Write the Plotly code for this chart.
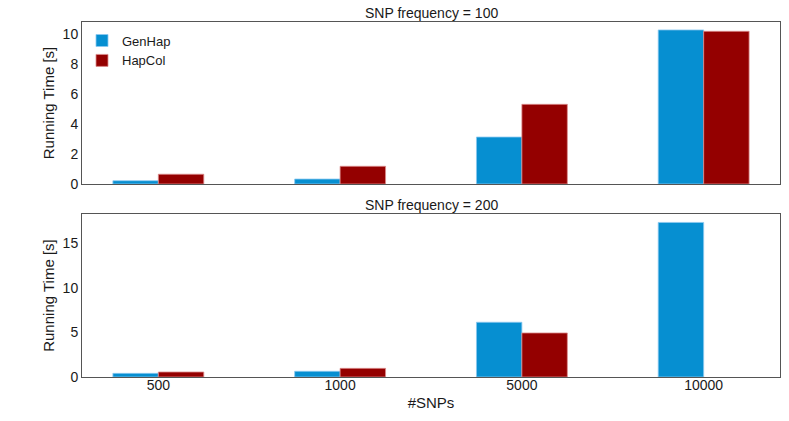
import plotly.graph_objects as go
from plotly.subplots import make_subplots

categories = ["500", "1000", "5000", "10000"]
genhap_100 = [0.22, 0.33, 3.13, 10.27]
hapcol_100 = [0.65, 1.18, 5.31, 10.18]
genhap_200 = [0.41, 0.64, 6.14, 17.34]
hapcol_200 = [0.56, 0.97, 4.94, None]

BLUE = "#068fd1"
RED = "#940000"
FONT = "Liberation Sans, Arial, sans-serif"
TXT = "#1a1a1a"

fig = make_subplots(rows=2, cols=1, shared_xaxes=True, vertical_spacing=0.085)

fig.add_trace(go.Bar(x=categories, y=genhap_100, name="GenHap", marker_color=BLUE,
                     marker_line=dict(color="rgba(140,200,240,0.8)", width=1),
                     legendgroup="g"), row=1, col=1)
fig.add_trace(go.Bar(x=categories, y=hapcol_100, name="HapCol", marker_color=RED,
                     marker_line=dict(color="rgba(220,140,140,0.8)", width=1),
                     legendgroup="h"), row=1, col=1)
fig.add_trace(go.Bar(x=categories, y=genhap_200, name="GenHap", marker_color=BLUE,
                     marker_line=dict(color="rgba(140,200,240,0.8)", width=1),
                     legendgroup="g", showlegend=False), row=2, col=1)
fig.add_trace(go.Bar(x=categories, y=hapcol_200, name="HapCol", marker_color=RED,
                     marker_line=dict(color="rgba(220,140,140,0.8)", width=1),
                     legendgroup="h", showlegend=False), row=2, col=1)

axis_common = dict(showline=True, linecolor="#555555", linewidth=1, mirror=True,
                   showgrid=False, zeroline=False, ticks="",
                   tickfont=dict(family=FONT, size=14, color=TXT))

fig.update_xaxes(**axis_common, range=[-0.42, 3.42])
fig.update_yaxes(**axis_common)
ytitle = dict(text="Running Time [s]", font=dict(family=FONT, size=15, color=TXT), standoff=4)
fig.update_yaxes(range=[0, 10.8], dtick=2, row=1, col=1, title=ytitle)
fig.update_yaxes(range=[0, 18.28], dtick=5, row=2, col=1, title=ytitle)
fig.update_xaxes(row=2, col=1, ticklabelstandoff=-5,
                 title=dict(text="#SNPs", font=dict(family=FONT, size=15, color=TXT), standoff=5))

fig.update_layout(
    width=789, height=421,
    margin=dict(l=82, r=9, t=22, b=44),
    paper_bgcolor="white", plot_bgcolor="white",
    barmode="group", bargap=0.5, bargroupgap=0,
    font=dict(family=FONT, size=13, color=TXT),
    legend=dict(x=0.0, y=0.99, xanchor="left", yanchor="top",
                bgcolor="rgba(0,0,0,0)", font=dict(family=FONT, size=13, color=TXT),
                itemwidth=30, tracegroupgap=0),
    annotations=[
        dict(text="SNP frequency = 100", x=0.5, y=1.0, xref="paper", yref="paper",
             xanchor="center", yanchor="bottom", showarrow=False, yshift=-1,
             font=dict(family=FONT, size=14, color=TXT)),
        dict(text="SNP frequency = 200", x=0.5, y=0.459, xref="paper", yref="paper",
             xanchor="center", yanchor="bottom", showarrow=False, yshift=-1,
             font=dict(family=FONT, size=14, color=TXT)),
    ],
)
fig.update_layout(yaxis=dict(domain=[0.5437, 1.0]), yaxis2=dict(domain=[0.0, 0.459]))

fig.write_html("out.html", config={"displayModeBar": False},
               post_script="document.body.style.margin='0px';")
